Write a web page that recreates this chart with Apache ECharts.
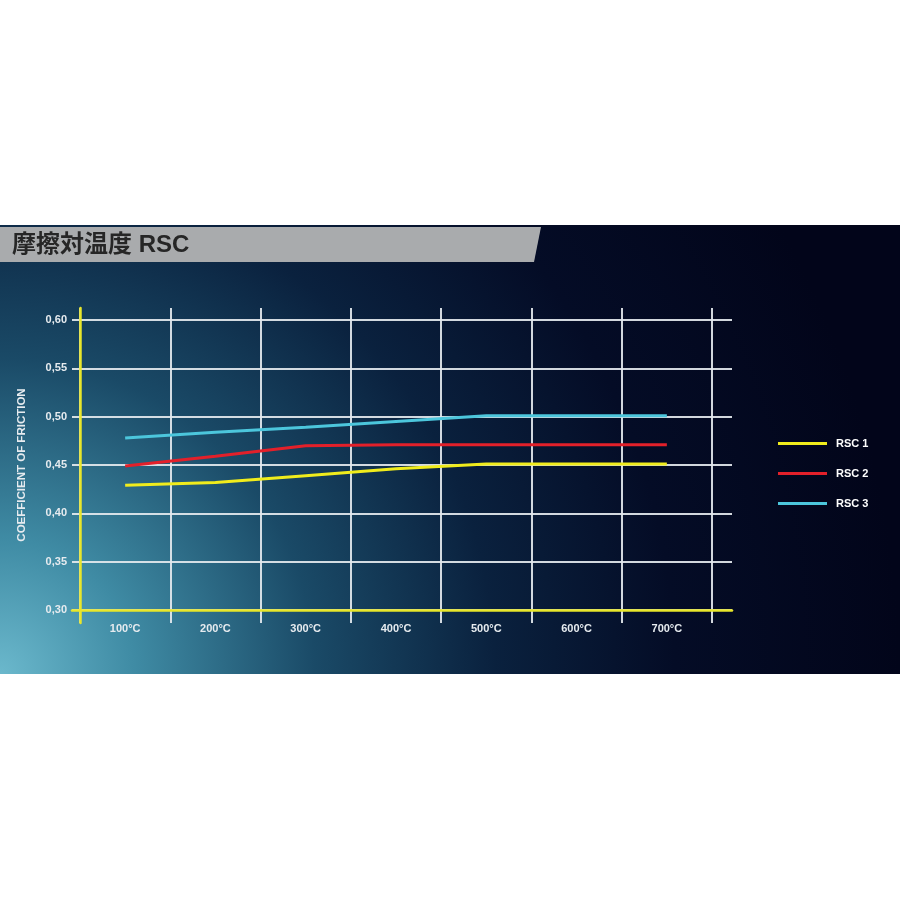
<!DOCTYPE html>
<html>
<head>
<meta charset="utf-8">
<script src="https://cdn.jsdelivr.net/npm/echarts@6/dist/echarts.min.js"></script>
<style>
html,body{margin:0;padding:0;background:#fff;}
#chart{width:900px;height:900px;}
</style>
</head>
<body>
<div id="chart"></div>
<script>
const titleText = '摩擦対温度 RSC';
const categories = ['100°C','200°C','300°C','400°C','500°C','600°C','700°C'];
const seriesNames = ['RSC 1','RSC 2','RSC 3'];
const rsc1 = [0.429, 0.432, 0.439, 0.446, 0.451, 0.451, 0.451];
const rsc2 = [0.449, 0.459, 0.470, 0.471, 0.471, 0.471, 0.471];
const rsc3 = [0.478, 0.484, 0.489, 0.495, 0.501, 0.501, 0.501];
const seriesColors = ['#f0ec1c','#e3202a','#4cc6dc'];
const yMin = 0.30, yMax = 0.60, yStep = 0.05;
const yAxisName = 'COEFFICIENT OF FRICTION';

const chart = echarts.init(document.getElementById('chart'), null, {renderer:'canvas'});
const font = '"Liberation Sans", Arial, sans-serif';
const gridColor = 'rgba(228,233,238,0.92)';
const yellow = '#e8e62a';

const option = {
  backgroundColor: '#ffffff',
  animation: false,
  graphic: [
    {
      type: 'rect', z: -10,
      shape: {x: 0, y: 225, width: 900, height: 449},
      style: {
        fill: new echarts.graphic.RadialGradient(0, 674, 900, [
          {offset: 0, color: '#6bb8cc'},
          {offset: 0.15, color: '#3f8ba4'},
          {offset: 0.35, color: '#1a4a67'},
          {offset: 0.55, color: '#0a213e'},
          {offset: 0.75, color: '#040c26'},
          {offset: 1, color: '#02051a'}
        ], true)
      }
    },
    {
      type: 'polygon', z: -5,
      shape: {points: [[0,227],[541,227],[534,262],[0,262]]},
      style: {fill: '#a9abad'}
    },
    {
      type: 'text', z: -4,
      left: 12, top: 233,
      style: {
        text: titleText,
        fill: '#262626',
        font: 'bold 24px "Liberation Sans", "Noto Sans CJK JP", sans-serif'
      }
    }
  ],
  legend: {
    orient: 'vertical',
    left: 773, top: 433,
    itemWidth: 49, itemHeight: 3, itemGap: 19,
    icon: 'rect',
    data: seriesNames,
    textStyle: {color: '#ffffff', fontSize: 11, fontWeight: 'bold', fontFamily: font, padding: [0,0,0,4]}
  },
  grid: [
    {left: 80, top: 320, width: 632, height: 290},
    {left: 72, top: 320, width: 660, height: 290},
    {left: 80, top: 308, width: 632, height: 315}
  ],
  xAxis: [
    {
      gridIndex: 0, type: 'category', data: categories, boundaryGap: true,
      axisLine: {show: false}, axisTick: {show: false}, splitLine: {show: false},
      axisLabel: {color: '#e6ebef', fontSize: 11, fontWeight: 'bold', fontFamily: font, margin: 13}
    },
    {
      gridIndex: 1, type: 'value', min: 0, max: 1, z: 1,
      axisLine: {show: true, lineStyle: {color: yellow, width: 2.5}},
      axisTick: {show: false}, axisLabel: {show: false}, splitLine: {show: false}
    },
    {
      gridIndex: 2, type: 'category', data: categories, boundaryGap: true, z: 0,
      axisLine: {show: false}, axisTick: {show: false}, axisLabel: {show: false},
      splitLine: {show: true, interval: 0, lineStyle: {color: gridColor, width: 2}}
    }
  ],
  yAxis: [
    {
      gridIndex: 0, type: 'value', min: yMin, max: yMax, interval: yStep,
      axisLine: {show: false}, axisTick: {show: false}, splitLine: {show: false},
      axisLabel: {
        color: '#e6ebef', fontSize: 11, fontWeight: 'bold', fontFamily: font, margin: 13,
        formatter: v => v.toFixed(2).replace('.', ',')
      },
      name: yAxisName, nameLocation: 'middle', nameGap: 52, nameRotate: 90,
      nameTextStyle: {color: '#e6ebef', fontSize: 11.5, fontWeight: 'bold', fontFamily: font}
    },
    {
      gridIndex: 1, type: 'value', min: yMin, max: yMax, interval: yStep, z: 0,
      axisLine: {show: false}, axisTick: {show: false}, axisLabel: {show: false},
      splitLine: {show: true, lineStyle: {color: gridColor, width: 2}}
    },
    {
      gridIndex: 2, type: 'value', min: 0, max: 1, z: 1,
      axisLine: {show: true, lineStyle: {color: yellow, width: 2.5}},
      axisTick: {show: false}, axisLabel: {show: false}, splitLine: {show: false}
    }
  ],
  series: [rsc1, rsc2, rsc3].map((d, i) => ({
    name: seriesNames[i], type: 'line', xAxisIndex: 0, yAxisIndex: 0,
    data: d, symbol: 'none', z: 5,
    lineStyle: {color: seriesColors[i], width: 3},
    itemStyle: {color: seriesColors[i]}
  }))
};
chart.setOption(option);
</script>
</body>
</html>
